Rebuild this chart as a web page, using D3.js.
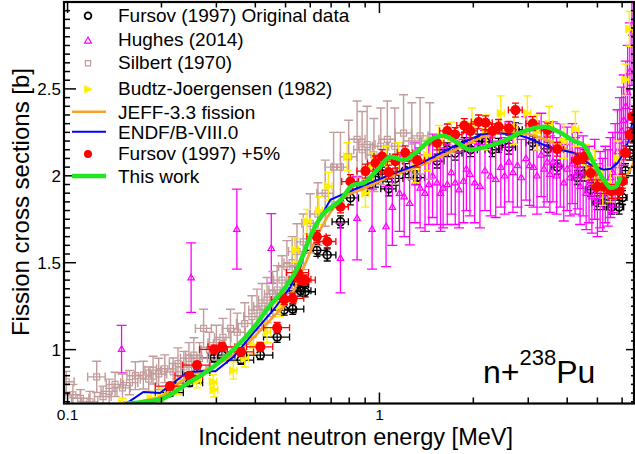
<!DOCTYPE html>
<html><head><meta charset="utf-8">
<script src="https://cdn.jsdelivr.net/npm/d3@7"></script>
<style>
html,body{margin:0;padding:0;background:#fff;}
svg{display:block;font-family:"Liberation Sans",Arial,Helvetica,sans-serif;}
</style></head><body>
<svg id="chart" width="635" height="454"></svg>
<script>
// ---- Fursov (1997): energy [MeV], original cross section [b], +5% renormalised values
const fursovE  = [0.213,0.246,0.260,0.295,0.313,0.360,0.415,0.470,0.495,0.527,0.548,0.558,0.578,0.630,0.680,0.750,0.807,0.902,0.971,1.02,1.07,1.125,1.21,1.32,1.53,1.65,1.75,1.87,1.96,2.08,2.19,2.30,2.41,2.60,2.73,3.10,3.46,3.72,4.31,4.53,4.76,4.99,5.25,5.55,5.87,6.02,6.15,6.35,6.50];
const fursovXS = [0.752,0.809,0.868,0.953,0.968,0.940,0.968,1.072,1.228,1.233,1.374,1.338,1.333,1.571,1.545,1.735,1.873,1.930,1.975,2.010,1.925,1.985,2.030,1.990,2.085,2.150,2.130,2.180,2.150,2.200,2.195,2.150,2.175,2.165,2.265,2.190,2.155,2.050,1.990,2.010,1.920,1.845,1.845,1.820,1.820,1.875,2.030,2.130,2.230];
const fursovPlus5 = [0.790,0.849,0.911,1.001,1.016,0.987,1.016,1.126,1.289,1.295,1.443,1.405,1.400,1.650,1.622,1.822,1.967,2.027,2.074,2.111,2.021,2.084,2.132,2.090,2.189,2.258,2.237,2.289,2.258,2.310,2.305,2.258,2.284,2.273,2.378,2.300,2.263,2.153,2.090,2.111,2.016,1.937,1.937,1.911,1.911,1.969,2.132,2.237,2.342];
const fursovDXS = [0.02,0.02,0.02,0.025,0.025,0.025,0.025,0.03,0.03,0.03,0.03,0.03,0.03,0.035,0.035,0.035,0.04,0.04,0.04,0.04,0.04,0.04,0.04,0.04,0.04,0.04,0.04,0.04,0.04,0.04,0.04,0.04,0.04,0.04,0.04,0.04,0.04,0.04,0.04,0.04,0.04,0.04,0.04,0.04,0.04,0.04,0.04,0.04,0.04];
const fursovDE = [0.022,0.025,0.026,0.030,0.031,0.035,0.040,0.045,0.045,0.045,0.045,0.045,0.045,0.045,0.045,0.045,0.05,0.055,0.055,0.06,0.06,0.065,0.07,0.075,0.08,0.09,0.09,0.10,0.10,0.11,0.11,0.12,0.12,0.13,0.14,0.15,0.16,0.17,0.18,0.18,0.19,0.19,0.20,0.20,0.20,0.20,0.20,0.20,0.20];

// ---- Hughes (2014)
const hughesE  = [0.149,0.249,0.349,0.45,0.75,0.848,0.947,1.05,1.10,1.16,1.20,1.25,1.30,1.35,1.40,1.44,1.48,1.53,1.57,1.60,1.65,1.70,1.75,1.80,1.86,1.90,1.95,2.02,2.10,2.18,2.27,2.36,2.45,2.52,2.60,2.68,2.77,2.85,2.95,3.03,3.12,3.20,3.30,3.37,3.45,3.52,3.60,3.70,3.80,3.90,4.00,4.08,4.15,4.24,4.32,4.40,4.50,4.60,4.70,4.80,4.90,5.00,5.10,5.20,5.30,5.40,5.50,5.60,5.70,5.80,5.90,5.98,6.07,6.16,6.25,6.35,6.45];
const hughesXS = [1.003,1.414,1.693,1.583,1.526,1.756,1.693,1.708,1.820,1.900,1.880,1.843,1.960,1.930,1.900,1.950,2.000,1.960,1.900,1.930,1.950,2.020,1.960,1.920,1.970,2.040,2.010,1.960,1.940,2.030,2.000,1.980,2.050,2.000,2.080,2.020,2.060,1.990,2.100,2.060,2.050,2.000,2.120,2.040,2.080,2.010,2.080,2.000,2.060,1.960,2.040,1.990,2.070,2.000,2.030,1.940,2.000,1.900,1.950,1.880,1.980,1.860,1.920,1.890,1.950,1.930,1.990,2.020,2.060,2.140,2.200,2.260,2.320,2.400,2.480,2.600,2.820];
const hughesDXS = [0.137,0.20,0.23,0.20,0.20,0.24,0.23,0.23,0.22,0.22,0.23,0.24,0.23,0.23,0.22,0.23,0.24,0.24,0.22,0.23,0.23,0.24,0.24,0.22,0.24,0.24,0.24,0.23,0.24,0.23,0.23,0.22,0.23,0.22,0.23,0.23,0.24,0.22,0.24,0.23,0.23,0.22,0.24,0.22,0.23,0.22,0.23,0.22,0.24,0.22,0.24,0.22,0.23,0.22,0.22,0.22,0.23,0.21,0.22,0.21,0.23,0.21,0.22,0.21,0.22,0.22,0.23,0.23,0.24,0.24,0.25,0.25,0.26,0.26,0.27,0.28,0.30];

// ---- Silbert (1970)
const silbertE  = [0.099,0.104,0.110,0.118,0.124,0.130,0.136,0.142,0.150,0.158,0.165,0.175,0.182,0.188,0.196,0.205,0.218,0.226,0.236,0.245,0.254,0.265,0.273,0.285,0.300,0.315,0.333,0.350,0.370,0.390,0.405,0.420,0.436,0.455,0.470,0.487,0.505,0.525,0.544,0.570,0.600,0.635,0.670,0.713,0.750,0.797,0.848,0.880,0.913,0.960,1.010,1.060,1.120,1.195,1.270,1.350,1.450];
const silbertXS = [0.815,0.740,0.720,0.700,0.843,0.730,0.760,0.800,0.780,0.810,0.850,0.853,0.830,0.882,0.860,0.890,0.872,0.920,0.900,0.950,0.968,0.950,1.122,1.000,1.040,1.070,1.122,1.100,1.150,1.190,1.228,1.250,1.285,1.320,1.343,1.400,1.477,1.500,1.564,1.620,1.727,1.780,1.900,2.050,2.050,2.110,2.210,2.150,2.180,2.120,2.170,2.210,2.170,2.246,2.200,2.230,2.200];
const silbertDXS = [0.06,0.06,0.05,0.06,0.09,0.06,0.07,0.07,0.08,0.07,0.08,0.08,0.07,0.08,0.09,0.08,0.08,0.09,0.09,0.09,0.10,0.09,0.11,0.10,0.10,0.11,0.11,0.11,0.12,0.12,0.12,0.13,0.13,0.13,0.14,0.14,0.15,0.15,0.16,0.16,0.17,0.18,0.19,0.20,0.20,0.21,0.22,0.22,0.22,0.21,0.22,0.22,0.22,0.22,0.22,0.22,0.22];
const silbertDE = [0.006,0.006,0.007,0.007,0.008,0.008,0.008,0.009,0.009,0.010,0.010,0.011,0.011,0.011,0.012,0.012,0.013,0.014,0.014,0.015,0.015,0.016,0.016,0.017,0.018,0.019,0.020,0.021,0.022,0.023,0.024,0.025,0.026,0.027,0.028,0.029,0.030,0.031,0.033,0.034,0.036,0.038,0.040,0.043,0.045,0.048,0.051,0.053,0.055,0.058,0.061,0.064,0.067,0.072,0.076,0.081,0.087];

// ---- Budtz-Joergensen (1982)
const budtzE  = [0.150,0.185,0.200,0.225,0.260,0.293,0.295,0.340,0.370,0.394,0.436,0.480,0.537,0.586,0.640,0.686,0.788,0.902,0.950,1.05,1.15,1.30,1.42,1.55,1.70,1.98,2.20,2.45,2.70,2.98,3.20,3.50,3.90,4.25,4.60,4.90,5.20,5.50,5.80,6.15,6.33];
const budtzXS = [0.690,0.720,0.740,0.780,0.820,0.815,0.767,0.880,0.950,1.026,1.100,1.250,1.573,1.737,1.800,1.940,2.110,1.900,2.050,2.080,2.100,2.050,2.120,2.200,2.220,2.290,2.250,2.360,2.280,2.360,2.250,2.300,2.200,2.270,2.080,2.050,1.930,1.950,2.100,2.553,2.845];
const budtzDXS = [0.03,0.04,0.04,0.04,0.04,0.04,0.04,0.05,0.05,0.05,0.06,0.06,0.07,0.07,0.08,0.08,0.08,0.08,0.08,0.09,0.09,0.09,0.09,0.09,0.09,0.10,0.10,0.10,0.10,0.10,0.10,0.10,0.10,0.10,0.10,0.10,0.10,0.10,0.10,0.09,0.10];
const budtzDE = [0.004,0.005,0.005,0.006,0.007,0.008,0.008,0.009,0.010,0.010,0.011,0.012,0.014,0.015,0.016,0.017,0.020,0.023,0.024,0.026,0.029,0.033,0.036,0.039,0.043,0.050,0.055,0.061,0.068,0.075,0.080,0.088,0.098,0.106,0.115,0.123,0.130,0.138,0.145,0.154,0.158];

// ---- Evaluated curves
const jeffE  = [0.10,0.15,0.17,0.198,0.242,0.29,0.34,0.40,0.457,0.518,0.58,0.646,0.75,0.90,1.10,1.40,1.80,2.20,2.60,3.00,3.50,4.00,4.50,5.00,5.40,5.70,6.00,6.25,6.50,6.60];
const jeffXS = [0.48,0.66,0.70,0.728,0.84,0.90,0.97,1.08,1.19,1.30,1.50,1.69,1.86,1.93,2.00,2.07,2.16,2.23,2.25,2.24,2.20,2.15,2.08,1.99,1.93,1.94,1.98,2.01,2.07,2.10];
const endfE  = [0.10,0.13,0.155,0.175,0.198,0.242,0.266,0.298,0.340,0.394,0.457,0.518,0.558,0.587,0.614,0.696,0.80,1.06,1.354,1.69,2.11,2.32,2.77,2.98,3.54,4.20,4.76,5.24,5.52,5.81,6.07,6.31,6.49,6.60];
const endfXS = [0.45,0.58,0.692,0.756,0.750,0.870,0.876,0.876,0.957,1.095,1.228,1.360,1.476,1.614,1.689,1.862,1.910,2.000,2.070,2.160,2.236,2.248,2.236,2.219,2.161,2.133,2.063,2.035,2.040,2.075,2.133,2.207,2.320,2.480];
const thisWorkE  = [0.155,0.198,0.24,0.293,0.34,0.394,0.44,0.492,0.55,0.60,0.647,0.75,0.825,0.889,0.986,1.084,1.195,1.32,1.49,1.60,1.69,1.78,1.96,2.22,2.50,2.83,3.36,3.81,4.20,4.52,4.86,5.24,5.52,5.72,5.94];
const thisWorkXS = [0.690,0.713,0.800,0.900,1.000,1.124,1.240,1.343,1.480,1.650,1.760,1.860,1.948,1.958,2.035,2.110,2.090,2.140,2.217,2.230,2.215,2.190,2.150,2.170,2.200,2.248,2.282,2.248,2.200,2.175,2.075,1.977,1.931,1.937,1.994];

// ---- Axis ticks and labels
const xMajorTicks = [0.1, 1];
const xMinorTicks = [0.2,0.3,0.4,0.5,0.6,0.7,0.8,0.9,2,3,4,5,6];
const xTickLabels = ["0.1","1"];
const yMajorTicks = [1, 1.5, 2, 2.5];
const yTickLabels = ["1","1.5","2","2.5"];

const legendLabels = ["Fursov (1997) Original data","Hughes (2014)","Silbert (1970)","Budtz-Joergensen (1982)","JEFF-3.3 fission","ENDF/B-VIII.0","Fursov (1997) +5%","This work"];

// ---- Layout
const W = 635, H = 454;
const L = 64, R = 634, T = 2, B = 403.5;
const svg = d3.select("#chart");

const x = d3.scaleLog().domain([0.0974, 6.55]).range([L, R]);
const y = d3.scaleLinear().domain([0.69, 3.0]).range([B, T]);

const COL = {
  black: "#000000", magenta: "#ff00ff", brown: "#c29b9b", yellow: "#ffee00",
  orange: "#f7a12a", blue: "#0000ff", red: "#ff0000", green: "#22e622"
};

svg.append("defs").append("clipPath").attr("id","plotclip")
  .append("rect").attr("x",L).attr("y",T).attr("width",R-L).attr("height",B-T);

const plot = svg.append("g").attr("clip-path","url(#plotclip)");

function errorBars(g, E, S, dS, dE, color, sw, cap) {
  const grp = g.append("g").attr("stroke", color).attr("stroke-width", sw).attr("fill","none");
  E.forEach((e, i) => {
    const cx = x(e), cy = y(S[i]);
    if (dS && dS[i] > 0) {
      const y1 = y(S[i] - dS[i]), y2 = y(S[i] + dS[i]);
      grp.append("line").attr("x1",cx).attr("x2",cx).attr("y1",y1).attr("y2",y2);
      grp.append("line").attr("x1",cx-cap).attr("x2",cx+cap).attr("y1",y1).attr("y2",y1);
      grp.append("line").attr("x1",cx-cap).attr("x2",cx+cap).attr("y1",y2).attr("y2",y2);
    }
    if (dE && dE[i] > 0) {
      const x1 = x(e - dE[i]), x2 = x(e + dE[i]);
      grp.append("line").attr("x1",x1).attr("x2",x2).attr("y1",cy).attr("y2",cy);
      grp.append("line").attr("x1",x1).attr("x2",x1).attr("y1",cy-cap).attr("y2",cy+cap);
      grp.append("line").attr("x1",x2).attr("x2",x2).attr("y1",cy-cap).attr("y2",cy+cap);
    }
  });
}

const sym = {
  circle: (s) => d3.symbol(d3.symbolCircle, s)(),
  triUp: (r) => `M0,${-r}L${r*0.95},${r*0.65}L${-r*0.95},${r*0.65}Z`,
  square: (r) => `M${-r},${-r}H${r}V${r}H${-r}Z`,
  triRight: (r) => `M${r},0L${-r*0.75},${-r*0.85}L${-r*0.75},${r*0.85}Z`
};

function markers(g, E, S, path, fill, stroke, sw) {
  g.append("g").selectAll("path").data(E).join("path")
    .attr("transform", (e, i) => `translate(${x(e)},${y(S[i])})`)
    .attr("d", path).attr("fill", fill).attr("stroke", stroke).attr("stroke-width", sw);
}

// Fursov original (open black circles)
errorBars(plot, fursovE, fursovXS, fursovDXS, fursovDE, COL.black, 1.3, 3.5);
markers(plot, fursovE, fursovXS, sym.circle(48), "none", COL.black, 1.7);

// Hughes
errorBars(plot, hughesE, hughesXS, hughesDXS, null, COL.magenta, 1.3, 5);
markers(plot, hughesE, hughesXS, sym.triUp(3.4), "none", COL.magenta, 1.2);

// Silbert
errorBars(plot, silbertE, silbertXS, silbertDXS, silbertDE, COL.brown, 1.4, 4.5);
markers(plot, silbertE, silbertXS, sym.square(3), "none", COL.brown, 1.2);

// Budtz-Joergensen
errorBars(plot, budtzE, budtzXS, budtzDXS, budtzDE, COL.yellow, 1.4, 4);
markers(plot, budtzE, budtzXS, sym.triRight(5), COL.yellow, "none", 0);

// Evaluations
const line = (E, S) => d3.line().x((d,i)=>x(E[i])).y((d,i)=>y(S[i]))(E);
const smooth = (E, S) => d3.line().curve(d3.curveMonotoneX).x((d,i)=>x(E[i])).y((d,i)=>y(S[i]))(E);
plot.append("path").attr("d", smooth(jeffE, jeffXS)).attr("fill","none").attr("stroke",COL.orange).attr("stroke-width",2.6);
plot.append("path").attr("d", line(endfE, endfXS)).attr("fill","none").attr("stroke",COL.blue).attr("stroke-width",2);

// Fursov +5% (filled red circles)
errorBars(plot, fursovE, fursovPlus5, fursovDXS, fursovDE, COL.red, 1.3, 3.5);
markers(plot, fursovE, fursovPlus5, sym.circle(80), COL.red, "none", 0);

// This work
plot.append("path").attr("d", smooth(thisWorkE, thisWorkXS)).attr("fill","none").attr("stroke",COL.green).attr("stroke-width",4.5);

// ---- Frame and ticks
const axes = svg.append("g").attr("stroke","#000").attr("stroke-width",1.5);
xMajorTicks.forEach(v => {
  axes.append("line").attr("x1",x(v)).attr("x2",x(v)).attr("y1",B).attr("y2",B-11);
  axes.append("line").attr("x1",x(v)).attr("x2",x(v)).attr("y1",T).attr("y2",T+11);
});
xMinorTicks.forEach(v => {
  axes.append("line").attr("x1",x(v)).attr("x2",x(v)).attr("y1",B).attr("y2",B-6);
  axes.append("line").attr("x1",x(v)).attr("x2",x(v)).attr("y1",T).attr("y2",T+5.5);
});
d3.range(0.70, 2.999, 0.05).forEach(v => {
  const major = yMajorTicks.some(m => Math.abs(m - v) < 1e-6);
  const yy = y(v);
  axes.append("line").attr("x1",L).attr("x2",L + (major ? 12 : 6)).attr("y1",yy).attr("y2",yy);
  axes.append("line").attr("x1",R).attr("x2",R - (major ? 8 : 3)).attr("y1",yy).attr("y2",yy);
});
svg.append("rect").attr("x",L).attr("y",T).attr("width",R-L).attr("height",B-T)
  .attr("fill","none").attr("stroke","#000").attr("stroke-width",2.2);

// Tick labels
const tl = svg.append("g").attr("fill","#000");
xMajorTicks.forEach((v,i) => tl.append("text").attr("x",x(v)).attr("y",420).attr("font-size",15.5).attr("text-anchor","middle").text(xTickLabels[i]));
yMajorTicks.forEach((v,i) => tl.append("text").attr("x",61).attr("y",y(v)+6).attr("font-size",17).attr("text-anchor","end").text(yTickLabels[i]));

// Axis titles
svg.append("text").attr("x",513).attr("y",445).attr("text-anchor","end").attr("font-size",23.5).text("Incident neutron energy [MeV]");
svg.append("text").attr("transform","translate(29,68) rotate(-90)").attr("text-anchor","end").attr("font-size",24).text("Fission cross sections [b]");

// Reaction label
const lab = svg.append("text").attr("x",483).attr("y",383).attr("font-size",32);
lab.append("tspan").text("n+");
lab.append("tspan").attr("font-size",22).attr("dy",-18).text("238");
lab.append("tspan").attr("dy",18).text("Pu");

// ---- Legend
const legY = [15.7, 40.7, 63.3, 89.3, 111.7, 131.7, 154, 176];
const legBase = [22, 46, 69, 95, 119, 138.5, 159.5, 183];
const leg = svg.append("g");
const mx = 88;
leg.append("path").attr("transform",`translate(${mx},${legY[0]})`).attr("d",sym.circle(36)).attr("fill","none").attr("stroke","#000").attr("stroke-width",1.8);
leg.append("path").attr("transform",`translate(${mx},${legY[1]})`).attr("d",sym.triUp(3.6)).attr("fill","none").attr("stroke",COL.magenta).attr("stroke-width",1.2);
leg.append("path").attr("transform",`translate(${mx},${legY[2]})`).attr("d",sym.square(2.6)).attr("fill","none").attr("stroke",COL.brown).attr("stroke-width",1.2);
leg.append("path").attr("transform",`translate(${mx},${legY[3]})`).attr("d",sym.triRight(5)).attr("fill",COL.yellow);
leg.append("line").attr("x1",72).attr("x2",106).attr("y1",legY[4]).attr("y2",legY[4]).attr("stroke",COL.orange).attr("stroke-width",2.6);
leg.append("line").attr("x1",72).attr("x2",106).attr("y1",legY[5]).attr("y2",legY[5]).attr("stroke",COL.blue).attr("stroke-width",2);
leg.append("path").attr("transform",`translate(${mx},${legY[6]})`).attr("d",sym.circle(50)).attr("fill",COL.red);
leg.append("line").attr("x1",72).attr("x2",106).attr("y1",legY[7]).attr("y2",legY[7]).attr("stroke",COL.green).attr("stroke-width",4.5);
legendLabels.forEach((t,i) => leg.append("text").attr("x",118).attr("y",legBase[i]).attr("font-size",19).text(t));
</script>
</body></html>
